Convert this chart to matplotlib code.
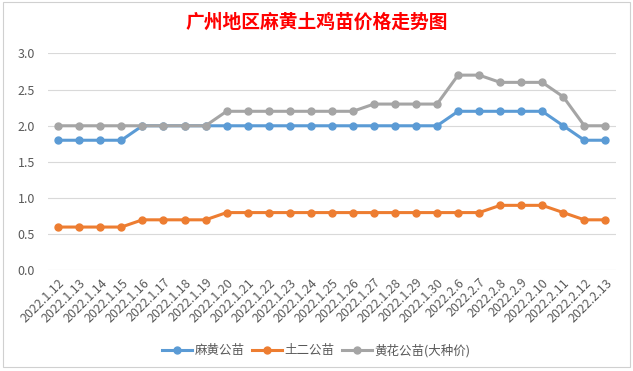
import matplotlib
matplotlib.use("Agg")
import matplotlib.pyplot as plt
from matplotlib.patches import Rectangle
import numpy as np

plt.rcParams['font.family'] = ['Noto Sans CJK SC', 'DejaVu Sans']

dates = ["2022.1.12", "2022.1.13", "2022.1.14", "2022.1.15", "2022.1.16",
         "2022.1.17", "2022.1.18", "2022.1.19", "2022.1.20", "2022.1.21",
         "2022.1.22", "2022.1.23", "2022.1.24", "2022.1.25", "2022.1.26",
         "2022.1.27", "2022.1.28", "2022.1.29", "2022.1.30", "2022.2.6",
         "2022.2.7", "2022.2.8", "2022.2.9", "2022.2.10", "2022.2.11",
         "2022.2.12", "2022.2.13"]
mahuang = [1.8, 1.8, 1.8, 1.8, 2.0, 2.0, 2.0, 2.0, 2.0, 2.0,
           2.0, 2.0, 2.0, 2.0, 2.0, 2.0, 2.0, 2.0, 2.0, 2.2,
           2.2, 2.2, 2.2, 2.2, 2.0, 1.8, 1.8]
tuer = [0.6, 0.6, 0.6, 0.6, 0.7, 0.7, 0.7, 0.7, 0.8, 0.8,
        0.8, 0.8, 0.8, 0.8, 0.8, 0.8, 0.8, 0.8, 0.8, 0.8,
        0.8, 0.9, 0.9, 0.9, 0.8, 0.7, 0.7]
huanghua = [2.0, 2.0, 2.0, 2.0, 2.0, 2.0, 2.0, 2.0, 2.2, 2.2,
            2.2, 2.2, 2.2, 2.2, 2.2, 2.3, 2.3, 2.3, 2.3, 2.7,
            2.7, 2.6, 2.6, 2.6, 2.4, 2.0, 2.0]
series_names = ["麻黄公苗", "土二公苗", "黄花公苗(大种价)"]
colors = ["#5B9BD5", "#ED7D31", "#A5A5A5"]
yticks = [0.0, 0.5, 1.0, 1.5, 2.0, 2.5, 3.0]

fig = plt.figure(figsize=(6.33, 3.71), dpi=100)
fig.patches.append(Rectangle((0.004, 0.01), 0.992, 0.984, transform=fig.transFigure,
                             fill=False, edgecolor="#D0D0D0", linewidth=0.8))
ax = fig.add_axes([0.0754, 0.271, 0.8976, 0.585])

x = np.arange(len(dates))
for vals, name, c in zip([mahuang, tuer, huanghua], series_names, colors):
    ax.plot(x, vals, color=c, linewidth=2.2, marker="o", markersize=5,
            label=name, zorder=3)

ax.set_xlim(-0.5, len(dates) - 0.5)
ax.set_ylim(0, 3.0)
ax.set_yticks(yticks)
ax.set_yticklabels([f"{v:.1f}" for v in yticks])
ax.set_xticks(x)
ax.set_xticklabels(dates, rotation=45, ha="right", rotation_mode="anchor")
ax.grid(axis="y", color="#D9D9D9", linewidth=0.8)
ax.set_axisbelow(True)
for s in ax.spines.values():
    s.set_visible(False)
ax.tick_params(axis="both", length=0, colors="#595959", labelsize=9)
ax.tick_params(axis="y", pad=9)
ax.tick_params(axis="x", pad=4)

fig.text(0.5, 0.94, "广州地区麻黄土鸡苗价格走势图", ha="center", va="center",
         color="#FF0000", fontsize=13.5, fontweight="bold")

ax.legend(loc="center", bbox_to_anchor=(0.5, 0.055), bbox_transform=fig.transFigure,
          ncol=3, frameon=False, fontsize=9, handlelength=2.4, handletextpad=0.2,
          columnspacing=0.6, labelcolor="#595959")

fig.savefig("out.png", dpi=100)
